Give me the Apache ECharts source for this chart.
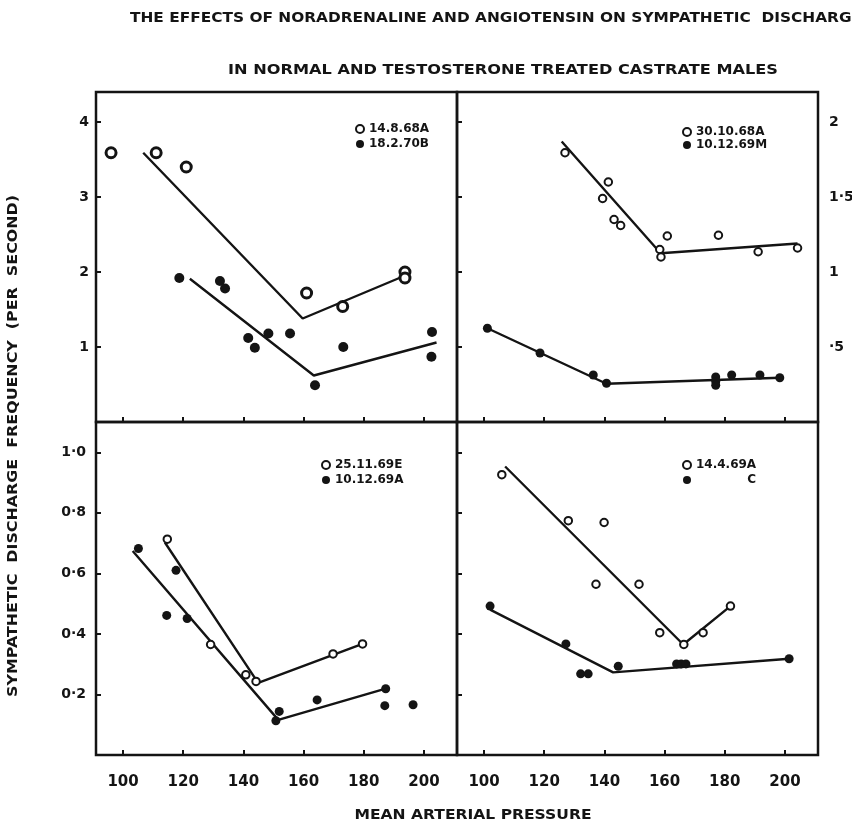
<!DOCTYPE html>
<html>
<head>
<meta charset="utf-8">
<script src="https://cdn.jsdelivr.net/npm/echarts@6/dist/echarts.min.js"></script>
<style>
  html, body { margin: 0; padding: 0; background: #fff; }
  #chart { width: 852px; height: 828px; }
</style>
</head>
<body>
<div id="chart"></div>
<script>
// ---- axis ticks and labels ----
const pressureTicks = [100, 120, 140, 160, 180, 200];
const pressureLabels = ['100', '120', '140', '160', '180', '200'];

const upperLeftTicks = [1, 2, 3, 4];
const upperLeftLabels = ['1', '2', '3', '4'];
const upperRightTicks = [0.5, 1, 1.5, 2];
const upperRightLabels = ['·5', '1', '1·5', '2'];
const lowerTicks = [0.2, 0.4, 0.6, 0.8, 1.0];
const lowerLabels = ['0·2', '0·4', '0·6', '0·8', '1·0'];

// ---- panel 1: 14.8.68A (open) / 18.2.70B (filled) ----
const p1Names = ['14.8.68A', '18.2.70B'];
const p1Open = [[96, 3.59], [111, 3.59], [121, 3.40], [161, 1.72], [173, 1.54], [193.7, 2.0], [193.7, 1.92]];
const p1Filled = [[118.7, 1.92], [132.2, 1.88], [133.9, 1.78], [141.6, 1.12], [143.8, 0.99], [148.3, 1.18],
  [155.5, 1.18], [163.8, 0.49], [173.2, 1.0], [202.7, 1.20], [202.5, 0.87]];
const p1OpenFit = [[106.7, 3.59], [159.7, 1.38], [194.2, 1.96]];
const p1FilledFit = [[122.2, 1.91], [163.4, 0.62], [204.2, 1.06]];

// ---- panel 2: 30.10.68A (open) / 10.12.69M (filled) ----
const p2Names = ['30.10.68A', '10.12.69M'];
const p2Open = [[126.9, 1.795], [141.3, 1.60], [139.4, 1.49], [143.2, 1.35], [145.4, 1.31], [160.9, 1.24],
  [158.4, 1.15], [158.8, 1.10], [177.9, 1.245], [191.1, 1.135], [204.2, 1.16]];
const p2Filled = [[101.1, 0.625], [118.6, 0.46], [136.3, 0.313], [140.7, 0.258], [177.0, 0.30], [177.0, 0.27],
  [177.0, 0.245], [182.3, 0.313], [191.7, 0.313], [198.3, 0.295]];
const p2OpenFit = [[125.8, 1.87], [158.7, 1.125], [204.2, 1.19]];
const p2FilledFit = [[101.1, 0.625], [140.7, 0.255], [198.3, 0.295]];

// ---- panel 3: 25.11.69E (open) / 10.12.69A (filled) ----
const p3Names = ['25.11.69E', '10.12.69A'];
const p3Open = [[114.7, 0.713], [129.1, 0.365], [140.8, 0.265], [144.2, 0.243], [169.8, 0.334], [179.6, 0.367]];
const p3Filled = [[105.1, 0.682], [117.6, 0.61], [114.5, 0.461], [121.3, 0.451], [151.9, 0.144], [150.8, 0.113],
  [164.5, 0.182], [187.3, 0.219], [187.0, 0.163], [196.4, 0.166]];
const p3OpenFit = [[113.9, 0.702], [144.9, 0.238], [179.6, 0.367]];
const p3FilledFit = [[103.2, 0.674], [151.6, 0.116], [187.3, 0.219]];

// ---- panel 4: 14.4.69A (open) / C (filled) ----
const p4Names = ['14.4.69A', 'C'];
const p4Open = [[105.9, 0.926], [128.0, 0.774], [139.9, 0.768], [137.2, 0.564], [151.5, 0.564], [158.4, 0.404],
  [166.4, 0.365], [172.8, 0.404], [181.9, 0.492]];
const p4Filled = [[102.0, 0.492], [127.2, 0.367], [132.1, 0.268], [134.6, 0.268], [144.6, 0.293], [164.0, 0.301],
  [165.5, 0.301], [167.1, 0.301], [201.4, 0.318]];
const p4OpenFit = [[107.0, 0.953], [166.2, 0.365], [181.9, 0.492]];
const p4FilledFit = [[102.0, 0.48], [142.9, 0.273], [201.4, 0.318]];

// ---- drawing ----
const INK = '#141414';
const FONT = '"DejaVu Sans", Verdana, sans-serif';

function labelFor(ticks, labels) {
  return function (v) {
    const k = ticks.findIndex(t => Math.abs(t - v) < 1e-6);
    return k < 0 ? '' : labels[k];
  };
}

const gridBoxes = [
  { left: 96, top: 92, width: 361, height: 330 },
  { left: 457, top: 92, width: 361, height: 330 },
  { left: 96, top: 422, width: 361, height: 333 },
  { left: 457, top: 422, width: 361, height: 333 }
];

const grid = gridBoxes.map(b => Object.assign({
  show: true, borderColor: INK, borderWidth: 2.5, backgroundColor: 'transparent',
  containLabel: false, outerBoundsMode: 'none'
}, b));

const tickStyle = { show: true, inside: true, length: 5, lineStyle: { color: INK, width: 2 } };
const labelText = { color: INK, fontFamily: FONT, fontWeight: 'bold', fontSize: 14 };

const xAxis = [0, 1, 2, 3].map(i => ({
  type: 'value', gridIndex: i, min: 91, max: 211,
  axisLine: { show: false }, splitLine: { show: false },
  axisTick: Object.assign({ customValues: pressureTicks }, tickStyle),
  axisLabel: Object.assign({
    show: i >= 2, customValues: pressureTicks, margin: 20,
    formatter: labelFor(pressureTicks, pressureLabels)
  }, labelText, { fontSize: 15 })
}));

function yAx(gridIndex, max, ticks, labels, opts) {
  return Object.assign({
    type: 'value', gridIndex, min: 0, max,
    axisLine: { show: false }, splitLine: { show: false },
    axisTick: Object.assign({ customValues: ticks }, tickStyle),
    axisLabel: Object.assign({
      show: !!labels, customValues: ticks, margin: 8,
      formatter: labels ? labelFor(ticks, labels) : ''
    }, labelText)
  }, opts || {});
}

const yAxis = [
  yAx(0, 4.4, upperLeftTicks, upperLeftLabels, {}),
  yAx(1, 2.2, upperRightTicks, null, {}),
  // labels of the upper-right panel sit outside its right edge
  Object.assign(yAx(1, 2.2, upperRightTicks, upperRightLabels, { position: 'right' }), {
    axisTick: { show: false }
  }),
  yAx(2, 1.1, lowerTicks, lowerLabels, {}),
  yAx(3, 1.1, lowerTicks, null, {})
];
yAxis[2].axisLabel.margin = 11;
yAxis[3].axisLabel.margin = 10;
yAxis[0].axisLabel.margin = 7;

const panels = [
  { names: p1Names, open: p1Open, filled: p1Filled, openFit: p1OpenFit, filledFit: p1FilledFit, y: 0, big: true },
  { names: p2Names, open: p2Open, filled: p2Filled, openFit: p2OpenFit, filledFit: p2FilledFit, y: 1 },
  { names: p3Names, open: p3Open, filled: p3Filled, openFit: p3OpenFit, filledFit: p3FilledFit, y: 3 },
  { names: p4Names, open: p4Open, filled: p4Filled, openFit: p4OpenFit, filledFit: p4FilledFit, y: 4 }
];

const series = [];
panels.forEach((p, i) => {
  const fitLine = (name, data) => ({
    name, type: 'line', xAxisIndex: i, yAxisIndex: p.y, data,
    symbol: 'none', silent: true, z: 2,
    lineStyle: { color: INK, width: 2.4 }
  });
  series.push(fitLine('fit ' + p.names[0], p.openFit));
  series.push(fitLine('fit ' + p.names[1], p.filledFit));
  series.push({
    name: p.names[0], type: 'scatter', xAxisIndex: i, yAxisIndex: p.y, data: p.open,
    symbol: 'circle', symbolSize: p.big ? 10 : 7.5, z: 3,
    itemStyle: { color: '#fff', borderColor: INK, borderWidth: p.big ? 3 : 2, opacity: 1 }
  });
  series.push({
    name: p.names[1], type: 'scatter', xAxisIndex: i, yAxisIndex: p.y, data: p.filled,
    symbol: 'circle', symbolSize: p.big ? 10 : 9, z: 3,
    itemStyle: { color: INK, opacity: 1 }
  });
});

const legendSpots = [[355, 123], [682, 126], [321, 459], [682, 459]];
const legend = panels.map((p, i) => ({
  data: p.names, orient: 'vertical',
  left: legendSpots[i][0], top: legendSpots[i][1],
  itemWidth: 8, itemHeight: 8, itemGap: i === 1 ? 1 : 3,
  selectedMode: false, padding: 0,
  formatter: name => (name === 'C' ? '{r|C}' : name),
  textStyle: {
    color: INK, fontFamily: FONT, fontWeight: 'bold', fontSize: 12,
    rich: { r: { width: 60, align: 'right', color: INK, fontFamily: FONT, fontWeight: 'bold', fontSize: 12 } }
  }
}));

// stretch lettering so each caption spans its given length
const measureCtx = document.createElement('canvas').getContext('2d');
function stretchTo(text, font, length) {
  measureCtx.font = font;
  return length / measureCtx.measureText(text).width;
}
function caption(text, x, y, size, length, align, rotation) {
  const font = 'bold ' + size + 'px ' + FONT;
  return {
    type: 'text', x, y, rotation: rotation || 0,
    scaleX: stretchTo(text, font, length), scaleY: 1,
    style: {
      text, fill: INK, font, align: align || 'center', verticalAlign: 'middle'
    },
    silent: true
  };
}

const titleLine1 = 'THE EFFECTS OF NORADRENALINE AND ANGIOTENSIN ON SYMPATHETIC  DISCHARGE';
const titleLine2 = 'IN NORMAL AND TESTOSTERONE TREATED CASTRATE MALES';
const xName = 'MEAN ARTERIAL PRESSURE';
const yName = 'SYMPATHETIC  DISCHARGE  FREQUENCY  (PER  SECOND)';

const graphic = [
  caption(titleLine1, 130, 18, 14, 732, 'left'),
  caption(titleLine2, 503, 70, 14, 550),
  caption(xName, 473, 815, 14, 237),
  caption(yName, 13, 446, 14, 502, 'center', Math.PI / 2)
];

const chart = echarts.init(document.getElementById('chart'), null, { renderer: 'canvas' });
chart.setOption({
  backgroundColor: '#fff',
  animation: false,
  grid, xAxis, yAxis, series, legend, graphic
});
</script>
</body>
</html>
